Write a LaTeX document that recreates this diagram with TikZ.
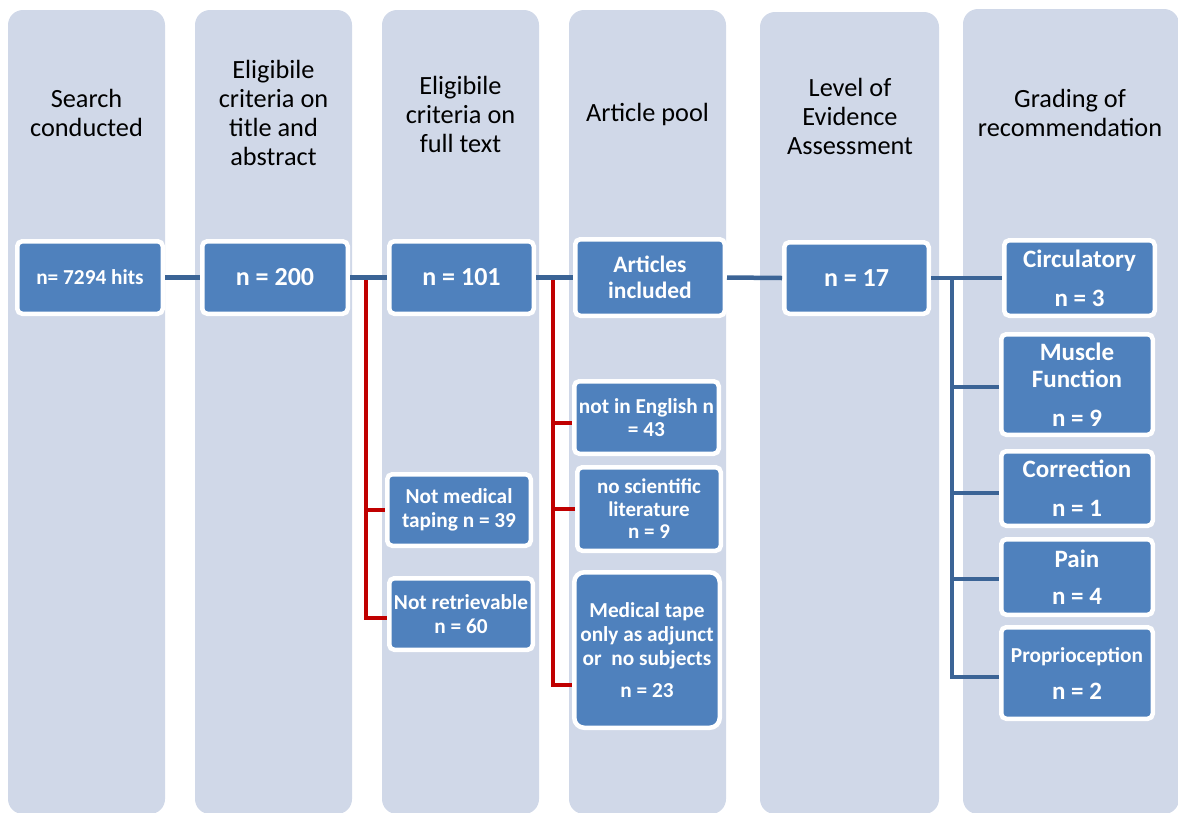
\documentclass[tikz,border=0pt]{standalone}
\usepackage{fontspec}
\setmainfont{Carlito}
\definecolor{colfill}{HTML}{D0D8E8}
\definecolor{boxblue}{HTML}{4F81BD}
\definecolor{lineblue}{HTML}{3B6496}
\definecolor{exred}{HTML}{C00000}
\tikzset{
  colbg/.style={fill=colfill, rounded corners=15pt},
  hdr/.style={font=\fontsize{26.3}{29}\selectfont, align=center, text=black, inner sep=0pt},
  box/.style={draw=white, line width=4.5pt, fill=boxblue, rounded corners=5pt, text=white, align=center, inner sep=0pt},
  bl/.style={draw=lineblue, line width=4.5pt},
  rd/.style={draw=exred, line width=4.5pt},
  fbig/.style={font=\bfseries\fontsize{26}{29}\selectfont},
  fsml/.style={font=\bfseries\fontsize{21.3}{23.5}\selectfont},
  fgrd/.style={font=\bfseries\fontsize{25}{27}\selectfont},
}
\begin{document}
\begin{tikzpicture}[x=1pt, y=-1pt]
\useasboundingbox (0,0) rectangle (1178,812);
\clip (0,0) rectangle (1178,812);
% columns
\fill[colbg] (8,10) rectangle (165,814);
\fill[colbg] (195,10) rectangle (352,814);
\fill[colbg] (382,10) rectangle (539,814);
\fill[colbg] (569,10) rectangle (726,814);
\fill[colbg] (760,12) rectangle (939,814);
\fill[colbg] (963,9) rectangle (1179,814);
% headers
\node[hdr] (h1) at (86.5,113) {Search\\conducted};
\node[hdr] (h2) at (273.5,113) {Eligibile\\criteria on\\title and\\abstract};
\node[hdr] (h3) at (460.5,114) {Eligibile\\criteria on\\full text};
\node[hdr] (h4) at (647.5,114) {Article pool};
\node[hdr] (h5) at (850,116) {Level of\\Evidence\\Assessment};
\node[hdr] (h6) at (1070,113) {Grading of\\recommendation};
% main boxes
\node[box, font=\bfseries\fontsize{21.3}{24}\selectfont, minimum width=145.5pt, minimum height=72.5pt] (b1) at (90,277.5) {n= 7294 hits};
\node[box, fbig, minimum width=145.5pt, minimum height=72.5pt] (b2) at (275,277.5) {n = 200};
\node[box, fbig, minimum width=144.5pt, minimum height=72.5pt] (b3) at (461.5,277.5) {n = 101};
\node[box, font=\bfseries\fontsize{23.5}{25.5}\selectfont, minimum width=149.5pt, minimum height=76.5pt] (b4) at (650,277.5) {Articles\\included};
\node[box, fbig, minimum width=144.5pt, minimum height=71.5pt] (b5) at (856.5,278) {n = 17};
% exclusion boxes
\node[box, fsml, minimum width=143.5pt, minimum height=71.5pt] (nm) at (459,510) {Not medical\\taping n = 39};
\node[box, fsml, minimum width=143.5pt, minimum height=71.5pt] (nr) at (461,614) {Not retrievable\\n = 60};
\node[box, fsml, minimum width=144.5pt, minimum height=72.5pt] (ne) at (646.5,417.5) {not in English n\\= 43};
\node[box, font=\bfseries\fontsize{21}{22.5}\selectfont, minimum width=143.5pt, minimum height=83.5pt] (ns) at (649,509) {no scientific\\literature\\n = 9};
\node[box, font=\bfseries\fontsize{21.3}{23.8}\selectfont, rounded corners=10pt, minimum width=145.5pt, minimum height=155.5pt] (mt) at (647,650) {Medical tape\\only as adjunct\\or\ \ no subjects\\[8pt]n = 23};
% grading boxes
\node[box, fgrd, minimum width=150.5pt, minimum height=75.5pt] (g1) at (1079.5,278) {Circulatory\\[12pt]n = 3};
\node[box, fgrd, minimum width=151.5pt, minimum height=100.5pt] (g2) at (1077,384.5) {Muscle\\Function\\[12pt]n = 9};
\node[box, fgrd, minimum width=151.5pt, minimum height=74.5pt] (g3) at (1077,488.5) {Correction\\[12pt]n = 1};
\node[box, fgrd, minimum width=151.5pt, minimum height=75.5pt] (g4) at (1077,577) {Pain\\[10pt]n = 4};
\node[box, fgrd, minimum width=151.5pt, minimum height=91.5pt] (g5) at (1077,673) {\fontsize{21.3}{23}\selectfont Proprioception\\[10pt]\fontsize{25}{27}\selectfont n = 2};
% red exclusion connectors
\coordinate (r1) at (366,277);
\coordinate (r2) at (553,277);
\draw[rd] (r1) |- (nm.west);
\draw[rd] (r1) |- ([yshift=-4pt]nr.west);
\draw[rd] (r2) |- ([yshift=-5.5pt]ne.west);
\draw[rd] (r2) |- (ns.west);
\draw[rd] (r2) |- ([yshift=-35pt]mt.west);
% blue main connectors
\draw[bl] (b1.east) -- (b2.west);
\draw[bl] (b2.east) -- (b3.west);
\draw[bl] (b3.east) -- (b4.west);
\draw[bl] (b4.east) -- (b5.west);
\draw[bl] (b5.east) -- (g1.west);
\coordinate (gt) at (952,277);
\draw[bl] (gt) |- ([yshift=-2.5pt]g2.west);
\draw[bl] (gt) |- ([yshift=-4.5pt]g3.west);
\draw[bl] (gt) |- ([yshift=-2pt]g4.west);
\draw[bl] (gt) |- ([yshift=-4pt]g5.west);
\end{tikzpicture}
\end{document}
